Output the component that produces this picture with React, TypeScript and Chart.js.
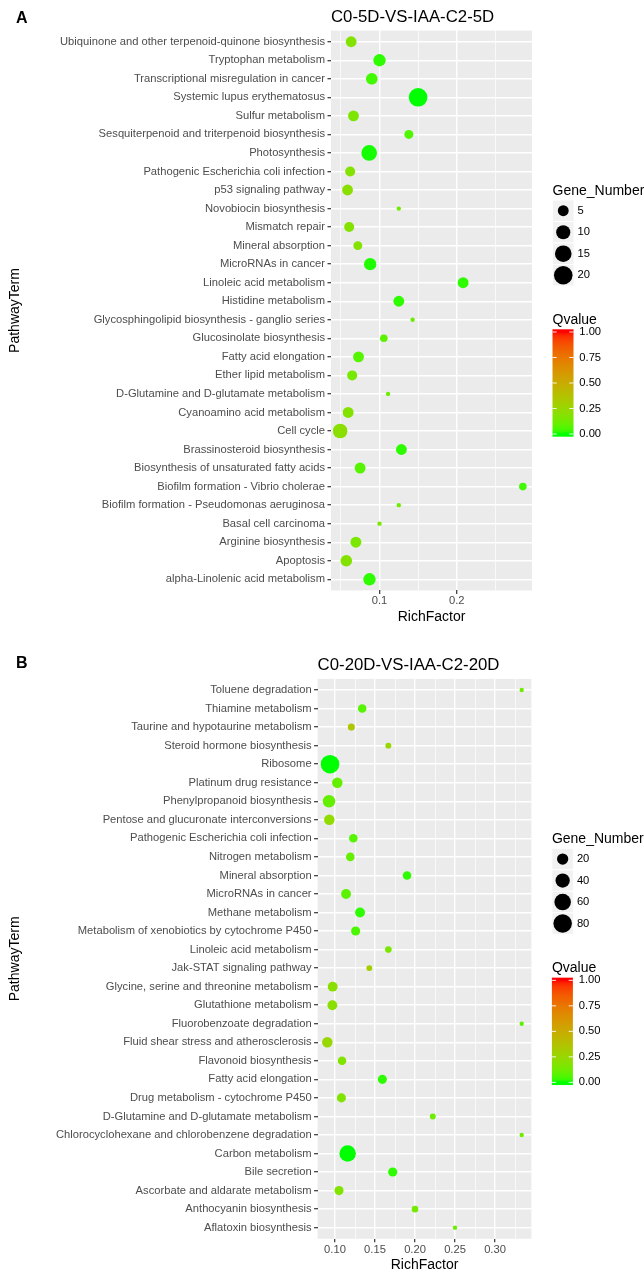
import React, { useEffect, useRef } from "react";
import { Chart, registerables } from "chart.js";

Chart.register(...registerables);

const FONT = '"Liberation Sans", Arial, Helvetica, sans-serif';

// ---------------- Panel A data ----------------
const titleA = "C0-5D-VS-IAA-C2-5D";
const termsA = [
  "Ubiquinone and other terpenoid-quinone biosynthesis",
  "Tryptophan metabolism",
  "Transcriptional misregulation in cancer",
  "Systemic lupus erythematosus",
  "Sulfur metabolism",
  "Sesquiterpenoid and triterpenoid biosynthesis",
  "Photosynthesis",
  "Pathogenic Escherichia coli infection",
  "p53 signaling pathway",
  "Novobiocin biosynthesis",
  "Mismatch repair",
  "Mineral absorption",
  "MicroRNAs in cancer",
  "Linoleic acid metabolism",
  "Histidine metabolism",
  "Glycosphingolipid biosynthesis - ganglio series",
  "Glucosinolate biosynthesis",
  "Fatty acid elongation",
  "Ether lipid metabolism",
  "D-Glutamine and D-glutamate metabolism",
  "Cyanoamino acid metabolism",
  "Cell cycle",
  "Brassinosteroid biosynthesis",
  "Biosynthesis of unsaturated fatty acids",
  "Biofilm formation - Vibrio cholerae",
  "Biofilm formation - Pseudomonas aeruginosa",
  "Basal cell carcinoma",
  "Arginine biosynthesis",
  "Apoptosis",
  "alpha-Linolenic acid metabolism",
];
const richA = [
  0.0633, 0.1, 0.09, 0.15, 0.0663, 0.138, 0.0866, 0.062, 0.0586, 0.125,
  0.0607, 0.0719, 0.0879, 0.2083, 0.125, 0.1429, 0.1056, 0.0728, 0.0646, 0.1111,
  0.0594, 0.049, 0.1284, 0.0749, 0.2857, 0.125, 0.1, 0.0694, 0.057, 0.087,
];
const genesA = [
  5, 7, 6, 20, 5, 3, 13, 4, 5, 1,
  4, 3, 7, 5, 5, 1, 2, 5, 4, 1,
  5, 11, 5, 5, 2, 1, 1, 5, 6, 7,
];
const qvalA = [
  0.18, 0.02, 0.04, 0.0, 0.16, 0.06, 0.005, 0.18, 0.2, 0.12,
  0.18, 0.18, 0.01, 0.02, 0.02, 0.12, 0.08, 0.07, 0.14, 0.12,
  0.18, 0.2, 0.02, 0.07, 0.04, 0.12, 0.15, 0.15, 0.18, 0.02,
];
const sizeBreaksA = [5, 10, 15, 20];

// ---------------- Panel B data ----------------
const titleB = "C0-20D-VS-IAA-C2-20D";
const termsB = [
  "Toluene degradation",
  "Thiamine metabolism",
  "Taurine and hypotaurine metabolism",
  "Steroid hormone biosynthesis",
  "Ribosome",
  "Platinum drug resistance",
  "Phenylpropanoid biosynthesis",
  "Pentose and glucuronate interconversions",
  "Pathogenic Escherichia coli infection",
  "Nitrogen metabolism",
  "Mineral absorption",
  "MicroRNAs in cancer",
  "Methane metabolism",
  "Metabolism of xenobiotics by cytochrome P450",
  "Linoleic acid metabolism",
  "Jak-STAT signaling pathway",
  "Glycine, serine and threonine metabolism",
  "Glutathione metabolism",
  "Fluorobenzoate degradation",
  "Fluid shear stress and atherosclerosis",
  "Flavonoid biosynthesis",
  "Fatty acid elongation",
  "Drug metabolism - cytochrome P450",
  "D-Glutamine and D-glutamate metabolism",
  "Chlorocyclohexane and chlorobenzene degradation",
  "Carbon metabolism",
  "Bile secretion",
  "Ascorbate and aldarate metabolism",
  "Anthocyanin biosynthesis",
  "Aflatoxin biosynthesis",
];
const richB = [
  0.3333, 0.134, 0.1204, 0.1667, 0.0938, 0.1029, 0.0925, 0.0929, 0.1229, 0.1191,
  0.19, 0.1138, 0.1313, 0.1258, 0.1667, 0.1429, 0.0971, 0.0967, 0.3333, 0.0904,
  0.1088, 0.1592, 0.108, 0.2222, 0.3333, 0.1158, 0.1721, 0.105, 0.2, 0.25,
];
const genesB = [
  1, 8, 4, 2, 81, 16, 27, 16, 8, 8,
  8, 13, 13, 10, 3, 2, 13, 13, 1, 16,
  8, 10, 10, 2, 1, 59, 10, 10, 3, 1,
];
const qvalB = [
  0.12, 0.07, 0.35, 0.25, 0.0, 0.1, 0.1, 0.22, 0.07, 0.1,
  0.02, 0.08, 0.02, 0.05, 0.15, 0.3, 0.2, 0.2, 0.08, 0.25,
  0.17, 0.02, 0.17, 0.12, 0.12, 0.0, 0.02, 0.17, 0.14, 0.12,
];
const sizeBreaksB = [20, 40, 60, 80];

// ---------------- shared legend data ----------------
const qBreaks = [0, 0.25, 0.5, 0.75, 1];
const qBreakLabels = ["0.00", "0.25", "0.50", "0.75", "1.00"];

// ---------------- colour (CIELAB gradient green -> red) ----------------
function rgb2lab(rgb: number[]) {
  const [r, g, b] = rgb.map((v) => {
    v /= 255;
    return v <= 0.04045 ? v / 12.92 : Math.pow((v + 0.055) / 1.055, 2.4);
  });
  const x = (0.4124564 * r + 0.3575761 * g + 0.1804375 * b) / 0.95047;
  const y = 0.2126729 * r + 0.7151522 * g + 0.072175 * b;
  const z = (0.0193339 * r + 0.119192 * g + 0.9503041 * b) / 1.08883;
  const f = (t: number) => (t > 216 / 24389 ? Math.cbrt(t) : ((24389 / 27) * t + 16) / 116);
  const fx = f(x), fy = f(y), fz = f(z);
  return [116 * fy - 16, 500 * (fx - fy), 200 * (fy - fz)];
}
function lab2rgb(L: number, a: number, b: number) {
  const fy = (L + 16) / 116, fx = fy + a / 500, fz = fy - b / 200;
  const finv = (t: number) => (t * t * t > 216 / 24389 ? t * t * t : (116 * t - 16) / (24389 / 27));
  const x = finv(fx) * 0.95047, y = finv(fy), z = finv(fz) * 1.08883;
  const r = 3.2404542 * x - 1.5371385 * y - 0.4985314 * z;
  const g = -0.969266 * x + 1.8760108 * y + 0.041556 * z;
  const bl = 0.0556434 * x - 0.2040259 * y + 1.0572252 * z;
  const gam = (v: number) => {
    v = Math.max(0, Math.min(1, v));
    return Math.round(255 * (v <= 0.0031308 ? 12.92 * v : 1.055 * Math.pow(v, 1 / 2.4) - 0.055));
  };
  return `rgb(${gam(r)},${gam(g)},${gam(bl)})`;
}
const LAB_LOW = rgb2lab([0, 255, 0]);
const LAB_HIGH = rgb2lab([255, 0, 0]);
function qColor(q: number) {
  const t = Math.max(0, Math.min(1, q));
  return lab2rgb(
    LAB_LOW[0] + (LAB_HIGH[0] - LAB_LOW[0]) * t,
    LAB_LOW[1] + (LAB_HIGH[1] - LAB_LOW[1]) * t,
    LAB_LOW[2] + (LAB_HIGH[2] - LAB_LOW[2]) * t
  );
}

// ggplot2-like size scale: area mapped to size range 1..6
function diameter(v: number, vmin: number, vmax: number) {
  const s = 1 + 5 * Math.sqrt(Math.max(0, (v - vmin) / (vmax - vmin)));
  return 2.845 * s + 1.5;
}

type Panel = {
  letter: string;
  title: string;
  terms: string[];
  rich: number[];
  genes: number[];
  qv: number[];
  sizeBreaks: number[];
  major: number;
  minor: number;
  decimals: number;
  canvasH: number;
  areaLeft: number;
  areaRight: number;
  areaTop: number;
  areaBottom: number;
  titleY: number;
  letterY: number;
};

const panels: Panel[] = [
  {
    letter: "A", title: titleA, terms: termsA, rich: richA, genes: genesA, qv: qvalA,
    sizeBreaks: sizeBreaksA, major: 0.1, minor: 0.05, decimals: 1,
    canvasH: 628, areaLeft: 331, areaRight: 532, areaTop: 30.6, areaBottom: 590.4,
    titleY: 17, letterY: 19,
  },
  {
    letter: "B", title: titleB, terms: termsB, rich: richB, genes: genesB, qv: qvalB,
    sizeBreaks: sizeBreaksB, major: 0.05, minor: 0.025, decimals: 2,
    canvasH: 644, areaLeft: 317.6, areaRight: 531.4, areaTop: 50.9, areaBottom: 610.8,
    titleY: 37, letterY: 35.5,
  },
];

const XAXIS_H = 30;

function makePlugin(p: Panel, gmin: number, gmax: number) {
  return {
    id: "panelDecor" + p.letter,
    beforeDraw(chart: any) {
      const { ctx, chartArea } = chart;
      ctx.save();
      ctx.fillStyle = "#EBEBEB";
      ctx.fillRect(chartArea.left, chartArea.top, chartArea.right - chartArea.left, chartArea.bottom - chartArea.top);
      ctx.restore();
    },
    afterDraw(chart: any) {
      const { ctx, chartArea } = chart;
      ctx.save();
      // panel letter
      ctx.fillStyle = "#000";
      ctx.textBaseline = "middle";
      ctx.textAlign = "left";
      ctx.font = `bold 16px ${FONT}`;
      ctx.fillText(p.letter, 16, p.letterY);
      // title
      ctx.font = `16.8px ${FONT}`;
      ctx.fillText(p.title, chartArea.left, p.titleY);

      // legends
      const x0 = chartArea.right + 20.5;
      const cy = (chartArea.top + chartArea.bottom) / 2;
      ctx.font = `14px ${FONT}`;
      ctx.fillText("Gene_Number", x0, cy - 119.8);
      const key = 21.5;
      p.sizeBreaks.forEach((v, i) => {
        const ky = cy - 99.8 + i * key;
        ctx.fillStyle = "#F2F2F2";
        ctx.fillRect(x0, ky - key / 2, key, key);
        ctx.strokeStyle = "#FFFFFF";
        ctx.lineWidth = 1;
        ctx.strokeRect(x0, ky - key / 2, key, key);
        ctx.fillStyle = "#000";
        ctx.beginPath();
        ctx.arc(x0 + key / 2, ky, diameter(v, gmin, gmax) / 2, 0, Math.PI * 2);
        ctx.fill();
        ctx.font = `11.2px ${FONT}`;
        ctx.fillText(String(v), x0 + key + 3.5, ky);
      });

      ctx.font = `14px ${FONT}`;
      ctx.fillStyle = "#000";
      ctx.fillText("Qvalue", x0, cy + 9.5);
      const barTop = cy + 18.8;
      const barBot = cy + 126.2;
      const barW = 21;
      const H = barBot - barTop;
      const grad = ctx.createLinearGradient(0, barBot, 0, barTop);
      for (let i = 0; i <= 40; i++) {
        const pos = i / 40;
        const val = (pos - 0.025) / 0.95;
        grad.addColorStop(pos, qColor(val));
      }
      ctx.fillStyle = grad;
      ctx.fillRect(x0, barTop, barW, H);
      qBreaks.forEach((q, i) => {
        const y = barBot - 0.025 * H - q * 0.95 * H;
        ctx.strokeStyle = "rgba(255,255,255,0.9)";
        ctx.lineWidth = 1;
        ctx.beginPath();
        ctx.moveTo(x0, y);
        ctx.lineTo(x0 + barW / 5, y);
        ctx.moveTo(x0 + barW - barW / 5, y);
        ctx.lineTo(x0 + barW, y);
        ctx.stroke();
        ctx.fillStyle = "#000";
        ctx.font = `11.2px ${FONT}`;
        ctx.fillText(qBreakLabels[i], x0 + barW + 5.8, y);
      });
      ctx.restore();
    },
  };
}

function makeConfig(p: Panel): any {
  const n = p.terms.length;
  const xmin = Math.min(...p.rich);
  const xmax = Math.max(...p.rich);
  const ex = (xmax - xmin) * 0.05;
  const gmin = Math.min(...p.genes);
  const gmax = Math.max(...p.genes);
  const isMajor = (v: number) => Math.abs(v / p.major - Math.round(v / p.major)) < 1e-6;
  const tickFont = { family: FONT, size: 11.2, lineHeight: 1.2 };
  const titleFont = { family: FONT, size: 14, lineHeight: 1.2 };
  return {
    type: "scatter",
    data: {
      datasets: [
        {
          data: p.rich.map((x, i) => ({ x, y: i })),
          pointRadius: p.genes.map((g) => diameter(g, gmin, gmax) / 2),
          pointHoverRadius: p.genes.map((g) => diameter(g, gmin, gmax) / 2),
          pointBackgroundColor: p.qv.map(qColor),
          pointBorderWidth: 0,
          pointBorderColor: "rgba(0,0,0,0)",
        },
      ],
    },
    options: {
      animation: false,
      responsive: false,
      events: [],
      layout: {
        padding: {
          left: 0,
          top: p.areaTop,
          right: 644 - p.areaRight,
          bottom: p.canvasH - p.areaBottom - XAXIS_H,
        },
      },
      plugins: {
        legend: { display: false },
        tooltip: { enabled: false },
        title: { display: false },
      },
      scales: {
        x: {
          type: "linear",
          position: "bottom",
          min: xmin - ex,
          max: xmax + ex,
          afterFit: (s: any) => {
            s.height = XAXIS_H;
          },
          ticks: {
            stepSize: p.minor,
            includeBounds: false,
            autoSkip: false,
            maxRotation: 0,
            minRotation: 0,
            padding: 0.5,
            color: "#4D4D4D",
            font: tickFont,
            callback: (v: any) => (isMajor(Number(v)) ? Number(v).toFixed(p.decimals) : ""),
          },
          grid: {
            color: "#FFFFFF",
            lineWidth: (c: any) => (c.tick && isMajor(c.tick.value) ? 1.4 : 0.7),
            drawTicks: true,
            tickLength: 3.5,
            tickColor: (c: any) => (c.tick && isMajor(c.tick.value) ? "#333333" : "rgba(0,0,0,0)"),
            tickWidth: 1.2,
          },
          border: { display: false },
          title: {
            display: true,
            text: "RichFactor",
            color: "#000",
            font: titleFont,
            padding: { top: 0, bottom: -5 },
          },
        },
        y: {
          type: "linear",
          reverse: true,
          min: -0.6,
          max: n - 1 + 0.6,
          afterFit: (s: any) => {
            s.width = p.areaLeft;
          },
          ticks: {
            stepSize: 1,
            includeBounds: false,
            autoSkip: false,
            maxTicksLimit: 1000,
            padding: 2.5,
            color: "#4D4D4D",
            font: tickFont,
            callback: (v: any) => {
              const k = Number(v);
              return Number.isInteger(k) && k >= 0 && k < n ? p.terms[k] : "";
            },
          },
          grid: {
            color: "#FFFFFF",
            lineWidth: 1.4,
            drawTicks: true,
            tickLength: 3.5,
            tickColor: "#333333",
            tickWidth: 1.2,
          },
          border: { display: false },
          title: {
            display: true,
            text: "PathwayTerm",
            color: "#000",
            font: titleFont,
            padding: { top: 6.6, bottom: 0 },
          },
        },
      },
    },
    plugins: [makePlugin(p, gmin, gmax)],
  };
}

function PanelChart({ p }: { p: Panel }) {
  const ref = useRef<HTMLCanvasElement>(null);
  useEffect(() => {
    if (!ref.current) return;
    const chart = new Chart(ref.current, makeConfig(p));
    return () => chart.destroy();
  }, [p]);
  return (
    <canvas
      ref={ref}
      width={644}
      height={p.canvasH}
      style={{ display: "block", width: 644, height: p.canvasH }}
    />
  );
}

export default function App() {
  useEffect(() => {
    document.body.style.overflow = "hidden";
  }, []);
  return (
    <div
      style={{
        position: "absolute",
        left: 0,
        top: 0,
        width: 644,
        height: 1272,
        background: "#FFFFFF",
        overflow: "hidden",
      }}
    >
      {panels.map((p) => (
        <PanelChart key={p.letter} p={p} />
      ))}
    </div>
  );
}
